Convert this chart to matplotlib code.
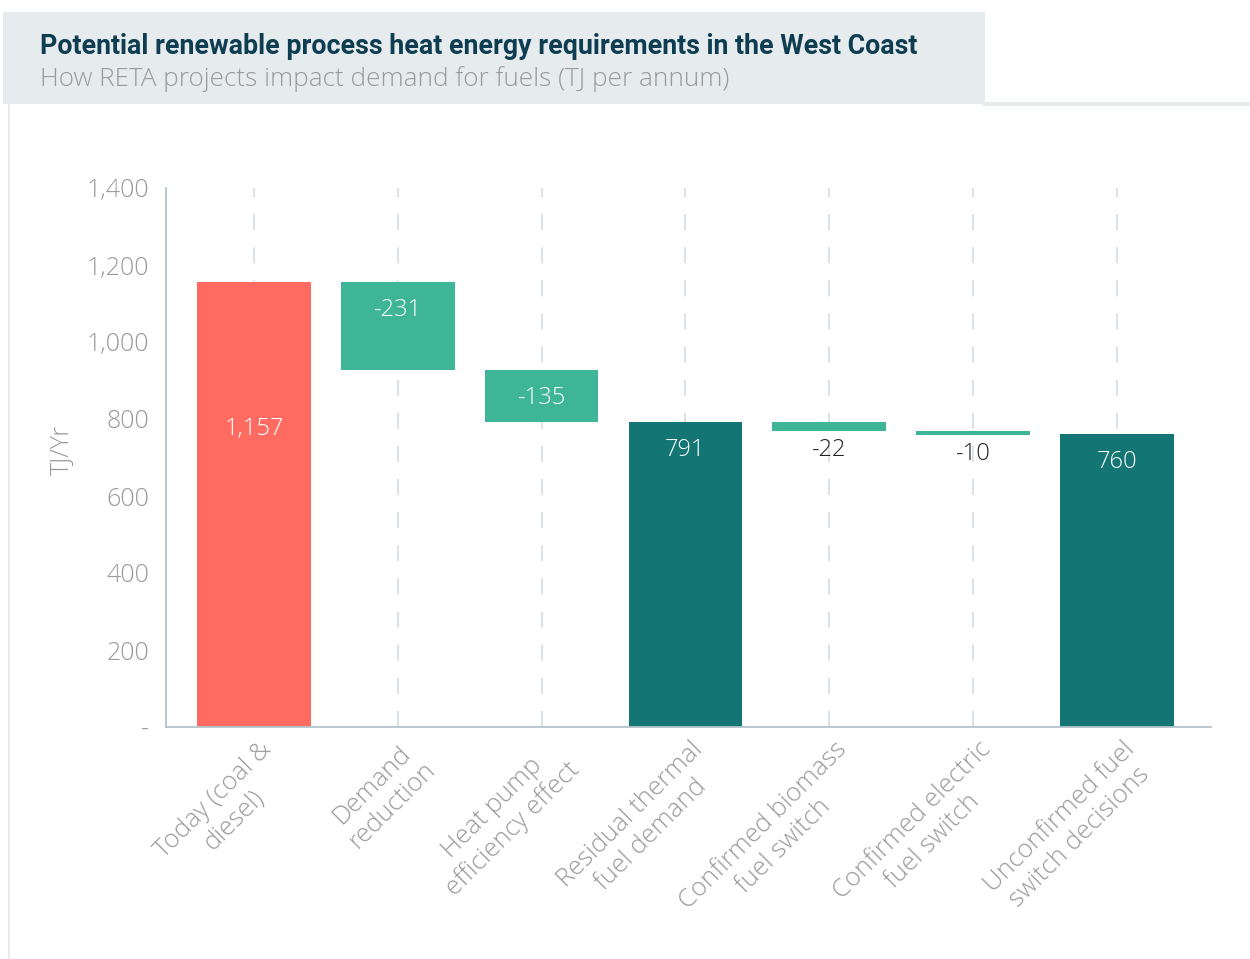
import matplotlib
matplotlib.use("Agg")
import matplotlib.pyplot as plt
from matplotlib.patches import Rectangle
from matplotlib.lines import Line2D
from matplotlib.transforms import ScaledTranslation
import numpy as np

plt.rcParams['font.family'] = ['Open Sans', 'DejaVu Sans']

# Waterfall data (TJ per annum)
categories = ["Today (coal &\ndiesel)", "Demand\nreduction", "Heat pump\nefficiency effect",
              "Residual thermal\nfuel demand", "Confirmed biomass\nfuel switch",
              "Confirmed electric\nfuel switch", "Unconfirmed fuel\nswitch decisions"]
values = [1157, -231, -135, 791, -22, -10, 760]
kinds = ["start", "delta", "delta", "total", "delta", "delta", "total"]
y_ticks = [0, 200, 400, 600, 800, 1000, 1200, 1400]
y_tick_labels = ["-", "200", "400", "600", "800", "1,000", "1,200", "1,400"]

RED = "#FF6B61"
GREEN = "#3EB596"
TEAL = "#137574"
GREY_TXT = "#9a9a9a"
AXIS_COL = "#b3c4cb"
GRID_COL = "#dce3e8"
LIGHT = "light"

W, H = 1250, 959
fig = plt.figure(figsize=(W / 100, H / 100), dpi=100)
fig.patch.set_facecolor("white")

def fx(px):
    return px / W

def fy(py):
    return 1 - py / H

# Header panel and frame lines
fig.patches.append(Rectangle((fx(3), fy(104)), fx(985) - fx(3), fy(12) - fy(104),
                             transform=fig.transFigure, facecolor="#e6ebed",
                             edgecolor="none", zorder=0))
fig.lines.append(Line2D([fx(985), fx(1250)], [fy(104), fy(104)], transform=fig.transFigure,
                        color="#e6ebed", lw=3, zorder=0))
fig.lines.append(Line2D([fx(8.5), fx(8.5)], [fy(104), fy(959)], transform=fig.transFigure,
                        color="#e6ebed", lw=1.5, zorder=0))

fig.text(fx(40), fy(46), "Potential renewable process heat energy requirements in the West Coast",
         fontsize=19.3, fontweight="bold", color="#0e3d52", va="center", ha="left",
         family=["Roboto", "DejaVu Sans"])
fig.text(fx(40), fy(79), "How RETA projects impact demand for fuels (TJ per annum)",
         fontsize=18.8, fontweight=LIGHT, color=GREY_TXT, va="center", ha="left")

ax = fig.add_axes([fx(166), fy(727), fx(1211) - fx(166), fy(188) - fy(727)])
ax.set_facecolor("none")

x = np.arange(len(categories))
bottoms, heights, colors = [], [], []
running = 0
for v, k in zip(values, kinds):
    if k in ("start", "total"):
        bottoms.append(0)
        heights.append(v)
        colors.append(RED if k == "start" else TEAL)
        running = v
    else:
        new = running + v
        bottoms.append(new)
        heights.append(-v)
        colors.append(GREEN)
        running = new

# Dashed category guides behind the bars
for xi in x:
    ax.plot([xi, xi], [0, 1400], ls=(0, (7.7, 8.2)), color=GRID_COL, lw=1.5, zorder=1)

ax.bar(x, heights, bottom=bottoms, width=0.79, color=colors, zorder=2)

# Value labels
px2pt = 72 / 100
for i, (v, k) in enumerate(zip(values, kinds)):
    top = bottoms[i] + heights[i]
    txt = f"{v:,}"
    if k == "start":
        ax.annotate(txt, (x[i], top), xytext=(0, -147 * px2pt), textcoords="offset points",
                    ha="center", va="center", color="white", fontsize=17, fontweight=LIGHT)
    elif heights[i] > 40:
        ax.annotate(txt, (x[i], top), xytext=(0, -28 * px2pt), textcoords="offset points",
                    ha="center", va="center", color="white", fontsize=17, fontweight=LIGHT)
    else:
        ax.annotate(txt, (x[i], bottoms[i]), xytext=(0, -19 * px2pt), textcoords="offset points",
                    ha="center", va="center", color="#222222", fontsize=17, fontweight=LIGHT)

ax.set_xlim(-0.612, 6.655)
ax.set_ylim(0, 1400)
ax.set_yticks(y_ticks)
ax.set_yticklabels(y_tick_labels)
ax.set_xticks(x)
ax.set_xticklabels(categories, rotation=45, ha="right", va="center",
                   rotation_mode="anchor", multialignment="center")
ax.tick_params(axis="both", length=0, labelcolor=GREY_TXT)
ax.tick_params(axis="x", labelsize=18.5)
ax.tick_params(axis="y", labelsize=18, pad=12)
for lab in ax.get_yticklabels():
    lab.set_fontweight(LIGHT)
for lab in ax.get_xticklabels():
    lab.set_fontweight(LIGHT)
    lab.set_transform(lab.get_transform() + ScaledTranslation(0.24, -0.24, fig.dpi_scale_trans))

for s in ("top", "right"):
    ax.spines[s].set_visible(False)
for s in ("left", "bottom"):
    ax.spines[s].set_color(AXIS_COL)
    ax.spines[s].set_linewidth(1.3)

fig.text(fx(62), fy(450), "TJ/Yr", rotation=90, fontsize=18, fontweight=LIGHT,
         color=GREY_TXT, ha="center", va="center")

fig.savefig("out.png", dpi=100)
